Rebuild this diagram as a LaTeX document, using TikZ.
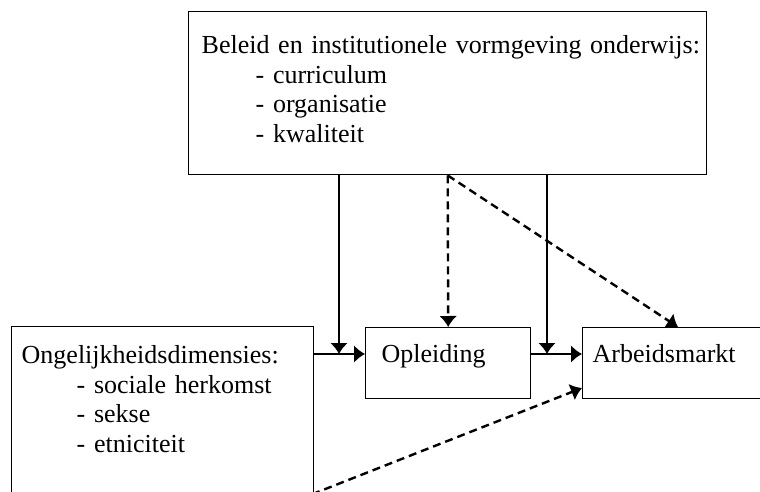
\documentclass[tikz,border=0pt]{standalone}
\usepackage{fontspec}
\setmainfont{Liberation Serif}
\usetikzlibrary{arrows.meta}

\tikzset{
  box/.style={draw, line width=1.4pt, anchor=north west, align=left,
    inner ysep=0pt, font=\fontsize{26}{29.5}\selectfont},
  dashline/.style={dash pattern=on 8pt off 5pt}
}

\begin{document}
\begin{tikzpicture}[x=1pt, y=-1pt, line width=2.4pt, >={Latex[length=11pt,width=18pt]}]
  \useasboundingbox (0,0) rectangle (760,492);
  \clip (0,0) rectangle (760,492);

  \node[box, inner xsep=13pt, text width=492pt, minimum height=163pt] (beleid) at (188,11)
    {\rule{0pt}{39pt}\mbox{Beleid en institutionele vormgeving onderwijs:}\\
     \hspace{54pt}- curriculum\\
     \hspace{54pt}- organisatie\\
     \hspace{54pt}- kwaliteit\\ \mbox{}};
  \node[box, inner xsep=10pt, text width=282pt, minimum height=204pt] (ongelijk) at (11,326)
    {Ongelijkheidsdimensies:\\
     \hspace{55pt}- sociale herkomst\\
     \hspace{55pt}- sekse\\
     \hspace{55pt}- etniciteit\\ \mbox{}\\ \mbox{}};
  \node[box, inner xsep=16pt, text width=133pt, minimum height=71pt] (opleiding) at (365,327)
    {\rule{0pt}{28.5pt}Opleiding\\ \mbox{}};
  \node[box, inner xsep=10pt, text width=190pt, minimum height=71pt] (arbeid) at (582,327)
    {\rule{0pt}{28.5pt}Arbeidsmarkt\\ \mbox{}};

  % knooppunten van de pijlen
  \coordinate (j1) at (339,354);
  \coordinate (j2) at (547,354);
  \coordinate (a1) at (678,327);
  \coordinate (a2) at (582,388);
  \coordinate (d0) at (300,499);

  \draw[->] (ongelijk.east |- j1) -- (opleiding.west |- j1);
  \draw[->] (opleiding.east |- j2) -- (arbeid.west |- j2);
  \draw[->] (beleid.south -| j1) -- (j1);
  \draw[->] (beleid.south -| j2) -- (j2);
  \draw[->, dashline] (beleid.south) -- (opleiding.north);
  \draw[->, dashline] (beleid.south) -- (a1);
  \draw[->, dashline] (d0) -- (a2);
\end{tikzpicture}
\end{document}
